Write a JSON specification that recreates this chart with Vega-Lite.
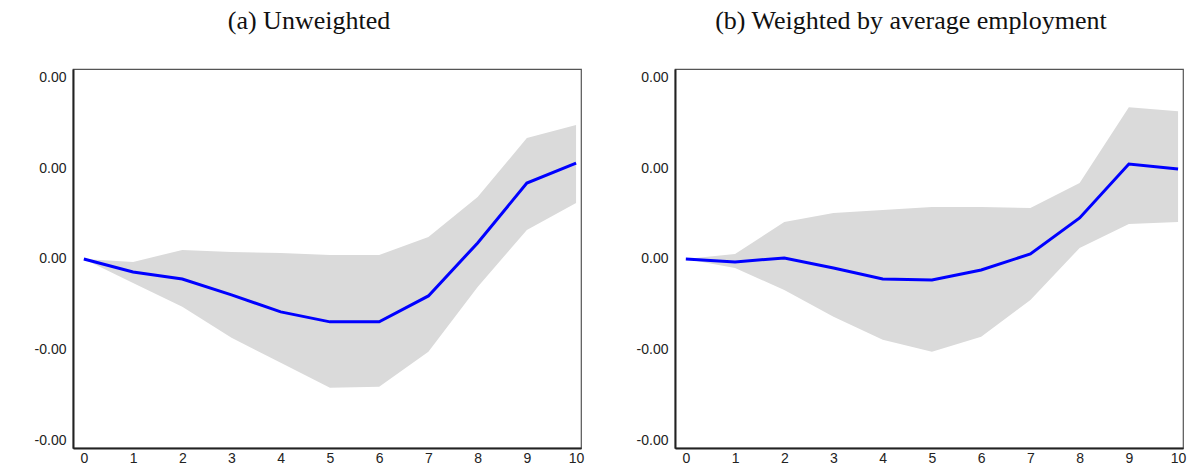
{
  "$schema": "https://vega.github.io/schema/vega-lite/v6.json",
  "background": "white",
  "padding": {"left": 33, "top": 7, "right": 0, "bottom": 0},
  "spacing": 50,
  "config": {
    "view": {"stroke": "#555555", "strokeWidth": 1.2},
    "title": {"font": "Liberation Serif", "fontSize": 26, "fontWeight": "normal", "color": "#111111", "frame": "bounds", "anchor": "middle", "offset": 35},
    "axis": {"grid": false, "ticks": false, "title": null, "labelFont": "Liberation Sans", "labelFontSize": 14, "labelColor": "#222222", "domainColor": "#222222", "domainWidth": 2, "labelOverlap": false, "labelFlush": false}
  },
  "datasets": {
    "a": [
      {"h": 0, "est": 0, "lo": 0, "hi": 0},
      {"h": 1, "est": -0.000143, "lo": -0.000264, "hi": -0.000033},
      {"h": 2, "est": -0.00022, "lo": -0.000527, "hi": 0.000099},
      {"h": 3, "est": -0.000396, "lo": -0.000868, "hi": 0.000077},
      {"h": 4, "est": -0.000582, "lo": -0.001143, "hi": 0.000066},
      {"h": 5, "est": -0.000692, "lo": -0.001418, "hi": 0.000044},
      {"h": 6, "est": -0.000692, "lo": -0.001407, "hi": 0.000044},
      {"h": 7, "est": -0.000407, "lo": -0.001022, "hi": 0.000242},
      {"h": 8, "est": 0.000176, "lo": -0.000308, "hi": 0.000681},
      {"h": 9, "est": 0.000835, "lo": 0.000319, "hi": 0.00133},
      {"h": 10, "est": 0.001055, "lo": 0.000615, "hi": 0.001473}
    ],
    "b": [
      {"h": 0, "est": 0, "lo": 0, "hi": 0},
      {"h": 1, "est": -0.000033, "lo": -0.000099, "hi": 0.000055},
      {"h": 2, "est": 0.000011, "lo": -0.000341, "hi": 0.000407},
      {"h": 3, "est": -0.000099, "lo": -0.000637, "hi": 0.000505},
      {"h": 4, "est": -0.00022, "lo": -0.00089, "hi": 0.000538},
      {"h": 5, "est": -0.000231, "lo": -0.001022, "hi": 0.000571},
      {"h": 6, "est": -0.000121, "lo": -0.000857, "hi": 0.000571},
      {"h": 7, "est": 0.000055, "lo": -0.000451, "hi": 0.00056},
      {"h": 8, "est": 0.000451, "lo": 0.000121, "hi": 0.000835},
      {"h": 9, "est": 0.001044, "lo": 0.000385, "hi": 0.00167},
      {"h": 10, "est": 0.000989, "lo": 0.000407, "hi": 0.001626}
    ]
  },
  "hconcat": [
    {
      "title": "(a) Unweighted",
      "width": 508,
      "height": 379,
      "data": {"name": "a"},
      "encoding": {
        "x": {"field": "h", "type": "quantitative", "scale": {"domain": [-0.22, 10.1], "nice": false, "zero": false}, "axis": {"values": [0,1,2,3,4,5,6,7,8,9,10], "labelPadding": 3}}
      },
      "layer": [
        {
          "mark": {"type": "area", "color": "#dadada", "opacity": 1},
          "encoding": {
            "y": {"field": "lo", "type": "quantitative", "scale": {"domain": [-0.00208, 0.00209], "nice": false, "zero": false}, "axis": {"values": [-0.002, -0.001, 0, 0.001, 0.002], "labelExpr": "datum.value < 0 ? '-0.00' : '0.00'", "labelPadding": 7, "minExtent": 34, "maxExtent": 34}},
            "y2": {"field": "hi"}
          }
        },
        {
          "mark": {"type": "line", "color": "#0000ff", "strokeWidth": 3},
          "encoding": {"y": {"field": "est", "type": "quantitative"}}
        }
      ]
    },
    {
      "title": "(b) Weighted by average employment",
      "width": 508,
      "height": 379,
      "data": {"name": "b"},
      "encoding": {
        "x": {"field": "h", "type": "quantitative", "scale": {"domain": [-0.22, 10.1], "nice": false, "zero": false}, "axis": {"values": [0,1,2,3,4,5,6,7,8,9,10], "labelPadding": 3}}
      },
      "layer": [
        {
          "mark": {"type": "area", "color": "#dadada", "opacity": 1},
          "encoding": {
            "y": {"field": "lo", "type": "quantitative", "scale": {"domain": [-0.00208, 0.00209], "nice": false, "zero": false}, "axis": {"values": [-0.002, -0.001, 0, 0.001, 0.002], "labelExpr": "datum.value < 0 ? '-0.00' : '0.00'", "labelPadding": 7, "minExtent": 34, "maxExtent": 34}},
            "y2": {"field": "hi"}
          }
        },
        {
          "mark": {"type": "line", "color": "#0000ff", "strokeWidth": 3},
          "encoding": {"y": {"field": "est", "type": "quantitative"}}
        }
      ]
    }
  ]
}
